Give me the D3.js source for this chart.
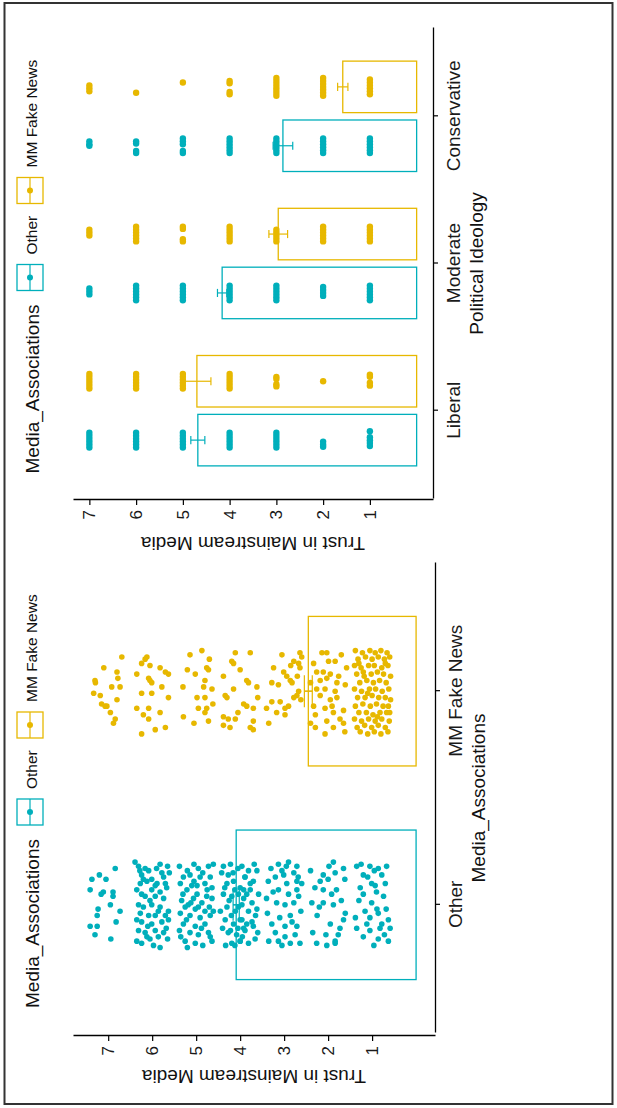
<!DOCTYPE html>
<html>
<head>
<meta charset="utf-8">
<script src="https://cdn.jsdelivr.net/npm/d3@7"></script>
<style>
body { margin: 0; background: #fff; }
svg { display: block; }
text { font-family: "Liberation Sans", Arial, sans-serif; }
</style>
</head>
<body>
<script>
// categories
var mediaGroups = ["Other", "MM Fake News"];
var ideologies = ["Liberal", "Moderate", "Conservative"];
var trustTicks = [1, 2, 3, 4, 5, 6, 7];
var groupColors = ["#00AFBB", "#E7B800"];

// left panel: mean trust and s.e. per media association
var mediaMeans = [4.09, 2.45];
var mediaSE = [0.07, 0.09];

// left panel responses: [jittered trust, jitter across the category]
var otherPts = [
  [6.84,.17],[7.37,.12],[7.41,.07],[7.11,.06],[6.89,.06],[6.89,.04],[7.23,-.02],[7.25,-.05],[6.73,-.03],[7.41,-.10],
  [7.25,-.10],[6.82,-.08],[6.94,-.16],[7.16,.05],[7.05,.12],[7.30,-.14],[6.95,0],[7.20,.14],
  [6.39,.20],[6.31,.18],[6.16,.17],[6.08,.16],[5.82,.19],[5.65,.18],[5.61,.15],[6.24,.14],[6.01,.12],[5.74,.13],
  [6.12,.11],[5.89,.10],[6.35,.07],[6.24,.05],[6.01,.07],[5.82,.06],[5.67,.08],[6.16,.04],[5.93,.04],[5.74,.03],
  [6.31,0],[6.20,-.01],[6.01,0],[5.82,-.01],[5.63,-.03],[6.27,-.04],[6.08,-.05],[5.93,-.05],[5.70,-.05],[6.24,-.08],
  [6.01,-.09],[5.78,-.08],[5.63,-.07],[6.31,-.12],[6.16,-.13],[5.93,-.12],[5.74,-.13],[6.35,-.17],[6.24,-.18],[6.05,-.16],
  [5.86,-.15],[5.65,-.16],[5.82,-.20],[6.12,-.15],[5.93,.09],[5.78,.15],[6.27,.10],[6.20,.12],[5.70,.10],[6.05,.02],
  [5.86,-.03],[6.35,-.07],[5.97,-.19],[6.28,.16],[5.68,-.11],[6.10,-.10],[5.90,.17],
  [4.95,.17],[4.72,.18],[4.61,.19],[5.14,.14],[5.29,.13],[4.91,.13],[4.68,.13],[5.36,.10],[5.10,.09],[4.80,.10],
  [4.64,.08],[5.21,.07],[4.98,.05],[4.76,.04],[5.33,.02],[5.06,.03],[4.87,.01],[4.64,.03],[5.25,-.01],[5.02,-.02],
  [4.80,-.03],[5.36,-.04],[5.14,-.05],[4.91,-.06],[4.68,-.05],[5.29,-.09],[5.02,-.10],[4.80,-.09],[5.14,-.13],[4.95,-.14],
  [4.72,-.13],[5.25,-.17],[5.02,-.18],[4.64,-.17],[4.61,-.03],[5.18,0],[5.38,.18],[5.20,.16],[5.05,.11],[4.85,.15],
  [5.30,.05],[5.12,.01],[4.95,-.01],[4.70,-.01],[5.38,-.12],[4.88,-.11],[5.20,-.20],[4.85,-.19],[5.05,.19],[4.75,.07],
  [5.22,-.07],[4.98,.09],[5.35,-.15],[4.68,-.15],
  [4.38,.18],[4.27,.14],[4.30,.10],[4.15,.11],[4.38,.05],[4.19,.04],[4.04,.05],[4.30,-.01],[4.11,-.03],[3.96,0],
  [4.34,-.07],[4.15,-.09],[4.00,-.07],[4.27,-.13],[4.08,-.14],[3.92,-.11],[4.19,-.18],[4.00,-.17],[3.89,.13],[3.92,.07],
  [3.96,.18],[3.81,.16],[3.62,.16],[3.89,.13],[3.70,.11],[4.00,.08],[3.77,.07],[3.58,.05],[3.92,.03],[3.73,.01],
  [4.04,-.01],[3.81,-.03],[3.62,-.02],[3.96,-.07],[3.73,-.08],[3.89,-.12],[3.70,-.10],[4.00,-.17],[3.81,-.18],[3.66,-.16],
  [3.77,.10],[4.42,.15],[4.22,.19],[4.05,.17],[4.35,.08],[4.12,.07],[3.85,.05],[4.25,.02],[4.45,-.03],[4.20,-.05],
  [3.65,-.05],[4.40,-.11],[4.22,-.12],[3.85,-.09],[4.05,-.11],[4.33,-.19],[3.60,-.13],[3.95,-.15],[4.12,-.19],[3.68,.19],
  [4.16,.15],
  [3.13,.19],[2.90,.20],[2.71,.18],[3.05,.16],[2.78,.15],[3.36,.11],[2.94,.10],[2.71,.11],[2.60,.10],[3.13,.07],
  [2.90,.05],[2.71,.07],[3.40,.03],[3.17,.01],[2.98,0],[2.78,.01],[2.67,.04],[2.86,-.05],[3.28,-.09],[2.98,-.10],
  [2.71,-.10],[3.20,-.13],[2.98,-.15],[3.13,-.17],[2.86,-.18],[2.64,-.18],[3.01,.14],[3.30,.17],[3.25,.06],[3.38,-.04],
  [2.62,-.03],[3.10,-.06],[2.75,-.14],[3.35,-.17],[2.95,.18],[3.20,.13],[2.82,-.08],[3.05,-.19],[2.68,.13],
  [1.88,.20],[1.65,.17],[1.84,.15],[2.11,.14],[2.30,.08],[2.11,.07],[1.81,.07],[1.92,.05],[2.37,.01],[2.11,.01],
  [1.88,0],[1.61,-.04],[1.65,-.07],[1.73,-.11],[1.77,-.14],[1.84,-.17],[2.26,-.18],[2.03,-.19],[1.84,-.18],[2.18,.11],
  [2.40,.16],[2.00,.12],[1.70,.02],[2.25,-.05],[1.95,-.09],[2.35,-.13],[1.62,.12],[2.05,-.14],[1.98,.18],[2.20,-.01],
  [1.35,.18],[1.05,.18],[.86,.17],[.67,.18],[1.20,.14],[.78,.14],[1.27,.08],[.93,.09],[1.20,.05],[.74,.04],
  [1.01,.01],[1.16,-.03],[.86,-.04],[1.05,-.06],[.63,-.07],[1.35,-.11],[1.05,-.12],[.82,-.11],[.59,-.11],[1.20,-.15],
  [.86,-.16],[.63,-.17],[1.01,.10],[1.12,-.09],[.78,-.09],[.89,-.02],[1.30,.02],[.70,.10],[.95,.16],[1.38,-.06],
  [.68,-.02],[.96,-.19],[1.25,.19],[.72,-.14],[1.10,.13],[.90,.06]
];
var fakePts = [
  [6.69,.16],[6.80,.09],[7.29,.04],[6.92,.02],[6.73,.02],[7.33,-.01],[7.18,-.02],[6.80,-.04],[7.07,-.07],[7.03,-.07],
  [6.84,-.13],[6.88,-.15],[7.15,-.06],[7.30,.05],[6.95,-.10],[7.10,.11],[6.78,.06],
  [6.12,.16],[6.24,.13],[6.05,.12],[5.82,.11],[5.70,.09],[5.63,.08],[6.35,.08],[6.08,.06],[6.01,.04],[5.78,.02],
  [6.24,-.01],[6.01,-.01],[5.63,-.03],[6.35,-.08],[6.08,-.08],[5.82,-.10],[6.20,-.11],[6.08,-.13],[5.93,-.18],[5.70,-.17],
  [6.24,-.20],[6.16,.15],[6.05,.05],
  [5.14,.17],[4.87,.19],[5.02,.08],[4.76,.11],[4.72,.10],[4.80,.05],[4.83,.02],[4.64,.01],[4.98,-.03],[4.80,-.03],
  [4.76,-.08],[4.80,-.10],[4.72,-.14],[5.29,-.12],[4.95,-.08],[5.20,.10],[5.30,.02],[4.62,-.06],[5.05,-.15],[4.70,.15],
  [4.11,.18],[3.77,.18],[4.19,.14],[4.15,.13],[4.38,.07],[3.85,.05],[3.81,.04],[4.15,.01],[3.62,.02],[4.34,-.02],
  [4.30,-.03],[3.92,-.06],[3.85,-.07],[3.70,-.08],[4.38,-.12],[4.27,-.13],[4.11,-.13],[3.70,-.14],[4.38,-.16],[4.23,-.17],
  [3.77,-.17],[3.70,-.18],[4.00,.10],[3.60,-.03],[4.05,-.10],
  [2.64,.18],[2.78,.14],[2.67,.13],[3.24,.11],[3.01,.09],[2.94,.07],[2.86,.05],[2.82,.04],[3.28,.04],[3.13,.03],
  [2.67,0],[2.71,-.02],[2.78,-.03],[3.28,-.05],[3.09,-.05],[2.98,-.08],[3.40,-.08],[3.17,-.10],[2.90,-.07],[2.98,-.11],
  [2.64,.11],[2.60,.16],[2.70,.07],[2.62,-.04],[3.05,.17],[2.85,.12],[3.35,-.15],
  [2.33,.13],[2.14,.18],[2.03,.18],[1.99,.14],[1.84,.14],[2.26,.09],[2.11,.09],[1.95,.08],[2.03,.06],[1.76,.07],
  [1.80,.04],[1.61,.03],[2.07,.01],[2.18,-.02],[1.84,0],[1.95,-.04],[1.80,-.03],[2.33,-.07],[2.07,-.08],[1.88,-.10],
  [1.65,-.09],[2.29,-.11],[2.03,-.14],[1.73,-.13],[2.29,-.17],[2.07,-.20],[1.88,-.17],[1.65,-.15],[2.18,.05],[1.58,.11],
  [2.26,.01],[1.91,-.07],[2.40,.04],[2.40,-.15],[1.70,.17],[1.62,-.19],
  [1.38,.19],[1.22,.18],[1.05,.19],[.93,.18],[.80,.19],[.66,.18],[1.32,.15],[1.15,.16],[1.00,.15],[.86,.16],
  [.72,.15],[.60,.16],[1.40,.12],[1.25,.11],[1.08,.12],[.95,.12],[.78,.11],[.64,.12],[1.35,.08],[1.18,.07],
  [1.02,.08],[.88,.09],[.74,.08],[.58,.07],[1.28,.04],[1.12,.05],[.97,.04],[.83,.05],[.68,.04],[1.40,.01],
  [1.24,0],[1.06,.01],[.92,.01],[.77,0],[.62,.01],[1.33,-.03],[1.16,-.03],[1.00,-.02],[.85,-.03],[.70,-.03],
  [.58,-.04],[1.38,-.07],[1.21,-.06],[1.04,-.07],[.90,-.06],[.75,-.07],[.63,-.07],[1.30,-.10],[1.13,-.10],[.98,-.11],
  [.82,-.10],[.67,-.10],[1.40,-.13],[1.24,-.14],[1.08,-.13],[.93,-.14],[.78,-.13],[.61,-.14],[1.34,-.17],[1.17,-.16],
  [1.01,-.17],[.86,-.16],[.70,-.17],[1.27,-.19],[1.10,-.20],[.95,-.19],[.80,-.20],[.64,-.19],[1.30,.13],[.70,.13],
  [1.10,-.01],[.88,-.12],[1.20,.09],[.60,-.10]
];

// right panel: mean trust and s.e. per ideology (Liberal, Moderate, Conservative)
var ideoOtherMeans = [4.68, 4.16, 2.86];
var ideoOtherSE = [0.15, 0.10, 0.21];
var ideoFakeMeans = [4.70, 2.96, 1.58];
var ideoFakeSE = [0.30, 0.20, 0.11];

// right panel responses: [trust, jitter across the dodged bar]
var libOtherPts = [
  [7,.05],[7,.03],[7,.01],[7,-.01],[7,-.03],[7,-.05],[6,.05],[6,.03],[6,.01],[6,-.01],[6,-.03],[6,-.05],
  [5,.05],[5,.03],[5,.01],[5,-.01],[5,-.03],[5,-.05],[4,.05],[4,.03],[4,.01],[4,-.01],[4,-.03],[4,-.05],
  [3,.05],[3,.03],[3,.01],[3,-.01],[3,-.03],[3,-.05],[2,-.01],[2,-.03],[2,-.045],
  [1,.06],[1,.02],[1,0],[1,-.02],[1,-.04]];
var libFakePts = [
  [7,.05],[7,.03],[7,.01],[7,-.01],[7,-.03],[7,-.05],[6,.05],[6,.03],[6,.01],[6,-.01],[6,-.03],[6,-.05],
  [5,.05],[5,.03],[5,.01],[5,-.01],[5,-.03],[5,-.05],[4,.05],[4,.03],[4,.01],[4,-.01],[4,-.03],[4,-.05],
  [3,.03],[3,.015],[3,-.02],[3,-.035],[2,0],[1,.045],[1,.03],[1,-.01],[1,-.03]];
var modOtherPts = [
  [7,.03],[7,.01],[7,-.01],[6,.05],[6,.03],[6,.01],[6,-.01],[6,-.03],[6,-.05],
  [5,.05],[5,.03],[5,.01],[5,-.01],[5,-.03],[5,-.05],[4,.05],[4,.03],[4,.01],[4,-.01],[4,-.03],[4,-.05],
  [3,.05],[3,.03],[3,.01],[3,-.01],[3,-.03],[3,-.05],[2,.04],[2,.02],[2,0],[2,-.02],
  [1,.05],[1,.03],[1,.01],[1,-.01],[1,-.03],[1,-.05]];
var modFakePts = [
  [7,.03],[7,.01],[7,-.01],[6,.05],[6,.03],[6,.01],[6,-.01],[6,-.03],[6,-.05],[5,.05],[5,.035],[5,-.035],[5,-.05],
  [4,.05],[4,.03],[4,.01],[4,-.01],[4,-.03],[4,-.05],[3,.03],[3,.01],[3,-.01],[3,-.03],[3,-.05],
  [2,.05],[2,.03],[2,.01],[2,-.01],[2,-.03],[2,-.05],[1,.05],[1,.03],[1,.01],[1,-.01],[1,-.03],[1,-.05]];
var conOtherPts = [
  [7,.03],[7,.01],[7,0],[6,.03],[6,.015],[6,-.035],[6,-.05],[5,.05],[5,.03],[5,.01],[5,-.035],[5,-.05],
  [4,.05],[4,.03],[4,.01],[4,-.01],[4,-.03],[4,-.05],[3,.05],[3,.03],[3,.01],[3,-.01],[3,-.03],[3,-.05],
  [2,.05],[2,.03],[2,.01],[2,-.01],[2,-.03],[2,-.05],[1,.05],[1,.03],[1,.01],[1,-.01],[1,-.03],[1,-.05]];
var conFakePts = [
  [7,.01],[7,-.01],[7,-.03],[6,-.04],[5,.03],[4,.04],[4,.025],[4,-.035],[4,-.05],
  [3,.06],[3,.04],[3,.02],[3,0],[3,-.02],[3,-.04],[3,-.06],[2,.06],[2,.04],[2,.02],[2,0],[2,-.02],[2,-.04],[2,-.06],
  [1,.05],[1,.03],[1,.01],[1,-.01],[1,-.03],[1,-.05]];

var W = 1108, H = 617;
var svg = d3.select("body").append("svg").attr("width", H).attr("height", W);

svg.append("rect")
  .attr("x", 4.5).attr("y", 3).attr("width", 608).attr("height", 1101)
  .attr("fill", "none").attr("stroke", "#333").attr("stroke-width", 2);

// the figure is drawn landscape and turned a quarter to the left
var g = svg.append("g").attr("transform", "translate(0," + W + ") rotate(-90)");

function styleAxis(sel) {
  sel.select(".domain").attr("stroke", "#000").attr("stroke-width", 1.3);
  sel.selectAll(".tick line").attr("stroke", "#000").attr("stroke-width", 1.2);
  sel.selectAll(".tick text").attr("fill", "#1a1a1a");
}

function legend(cx) {
  var lg = g.append("g").attr("transform", "translate(" + (cx - 210) + ",0)");
  lg.append("text").attr("x", 0).attr("y", 39).attr("font-size", 19).attr("fill", "#111")
    .text("Media_Associations");
  mediaGroups.forEach(function(name, i) {
    var kx = i == 0 ? 183 : 270;
    lg.append("rect").attr("x", kx).attr("y", 17).attr("width", 26).attr("height", 26)
      .attr("fill", "#fff").attr("stroke", groupColors[i]).attr("stroke-width", 1.3);
    lg.append("line").attr("x1", kx).attr("x2", kx + 26).attr("y1", 30).attr("y2", 30)
      .attr("stroke", groupColors[i]).attr("stroke-width", 1.2);
    lg.append("circle").attr("cx", kx + 13).attr("cy", 30).attr("r", 3).attr("fill", groupColors[i]);
    lg.append("text").attr("x", kx + 36).attr("y", 37).attr("font-size", 15.5).attr("fill", "#111")
      .text(name);
  });
}

function trustAxis(y, x0, labelX) {
  var ax = g.append("g").attr("transform", "translate(" + x0 + ",0)")
    .call(d3.axisLeft(y).tickValues(trustTicks).tickSize(5).tickSizeOuter(0).tickFormat(d3.format("d")));
  styleAxis(ax);
  ax.selectAll(".tick text").attr("font-size", 17).attr("x", -10);
  var mid = (y.range()[0] + y.range()[1]) / 2;
  g.append("text").attr("transform", "translate(" + labelX + "," + mid + ") rotate(-90)")
    .attr("text-anchor", "middle").attr("font-size", 19).attr("fill", "#111")
    .text("Trust in Mainstream Media");
}

function catAxis(x, y0, title) {
  var ax = g.append("g").attr("transform", "translate(0," + y0 + ")")
    .call(d3.axisBottom(x).tickSize(5).tickSizeOuter(0));
  styleAxis(ax);
  ax.selectAll(".tick text").attr("font-size", 19).attr("y", 27).attr("dy", 0);
  var mid = (x.range()[0] + x.range()[1]) / 2;
  g.append("text").attr("x", mid).attr("y", y0 + 50).attr("text-anchor", "middle")
    .attr("font-size", 19).attr("fill", "#111").text(title);
}

function bar(cx, w, y, mean, se, color, capW) {
  g.append("rect").attr("x", cx - w / 2).attr("y", y(mean)).attr("width", w)
    .attr("height", y(0) - y(mean)).attr("fill", "none").attr("stroke", color).attr("stroke-width", 1.3);
  var eb = g.append("g").attr("stroke", color).attr("stroke-width", 1.2);
  eb.append("line").attr("x1", cx).attr("x2", cx).attr("y1", y(mean - se)).attr("y2", y(mean + se));
  eb.append("line").attr("x1", cx - capW / 2).attr("x2", cx + capW / 2).attr("y1", y(mean - se)).attr("y2", y(mean - se));
  eb.append("line").attr("x1", cx - capW / 2).attr("x2", cx + capW / 2).attr("y1", y(mean + se)).attr("y2", y(mean + se));
}

// ---- left panel: Media_Associations
var xA = d3.scalePoint().domain(mediaGroups).range([75, 545]).padding(0.6);
var yA = d3.scaleLinear().domain([-0.43, 7.8]).range([435, 73]);
var stepA = xA.step();

mediaGroups.forEach(function(name, i) {
  bar(xA(name), 0.7 * stepA, yA, mediaMeans[i], mediaSE[i], groupColors[i], 0.15 * stepA);
});
[otherPts, fakePts].forEach(function(pts, i) {
  g.append("g").selectAll("circle").data(pts).enter().append("circle")
    .attr("cx", function(d) { return xA(mediaGroups[i]) + d[1] * stepA; })
    .attr("cy", function(d) { return yA(d[0]); })
    .attr("r", 2.8).attr("fill", groupColors[i]);
});
mediaGroups.forEach(function(name, i) {
  var cx = xA(name);
  var eb = g.append("g").attr("stroke", groupColors[i]).attr("stroke-width", 1.2);
  eb.append("line").attr("x1", cx).attr("x2", cx).attr("y1", yA(mediaMeans[i] - mediaSE[i])).attr("y2", yA(mediaMeans[i] + mediaSE[i]));
});

trustAxis(yA, 72, 38);
catAxis(xA, 435, "Media_Associations");
legend(310);

// ---- right panel: Political Ideology
var xB = d3.scalePoint().domain(ideologies).range([609, 1080]).padding(0.6);
var yB = d3.scaleLinear().domain([-0.35, 7.35]).range([433, 73]);
var stepB = xB.step();
var ideoPts = [[libOtherPts, libFakePts], [modOtherPts, modFakePts], [conOtherPts, conFakePts]];
var ideoMeans = [ideoOtherMeans, ideoFakeMeans];
var ideoSE = [ideoOtherSE, ideoFakeSE];

ideologies.forEach(function(name, j) {
  [0, 1].forEach(function(i) {
    var cx = xB(name) + (i == 0 ? -0.2 : 0.2) * stepB;
    bar(cx, 0.35 * stepB, yB, ideoMeans[i][j], ideoSE[i][j], groupColors[i], 0.055 * stepB);
    g.append("g").selectAll("circle").data(ideoPts[j][i]).enter().append("circle")
      .attr("cx", function(d) { return cx + d[1] * stepB; })
      .attr("cy", function(d) { return yB(d[0]); })
      .attr("r", 3.2).attr("fill", groupColors[i]);
  });
});

trustAxis(yB, 608, 571);
catAxis(xB, 433, "Political Ideology");
legend(844.5);
</script>
</body>
</html>
